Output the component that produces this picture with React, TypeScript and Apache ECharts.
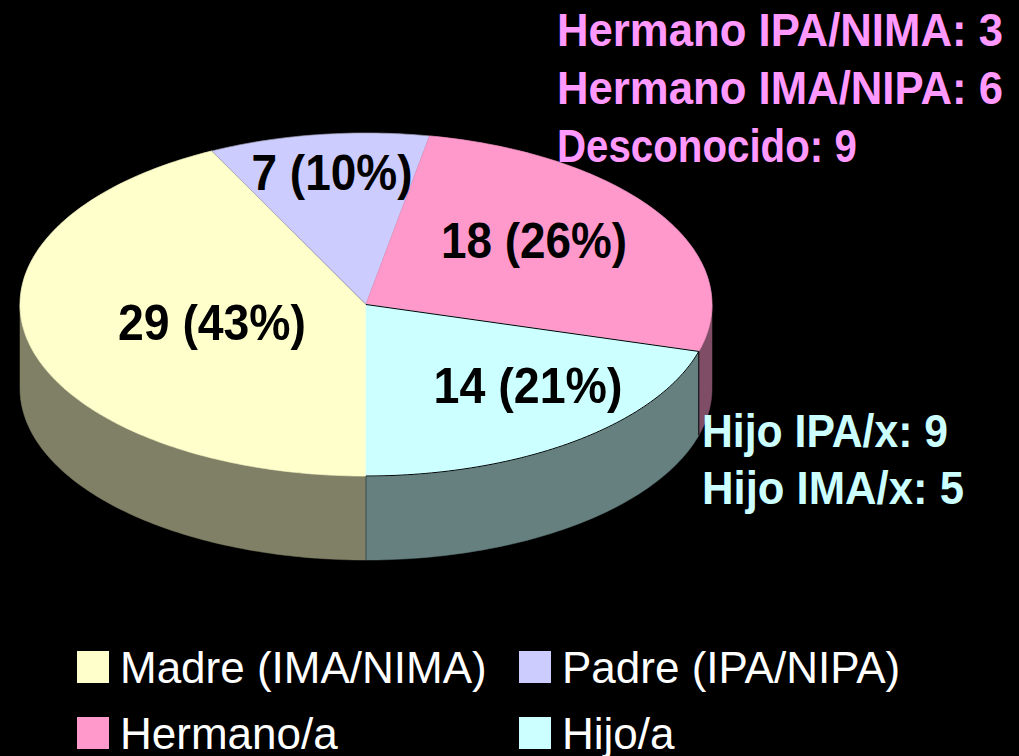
import React, { useEffect, useRef } from "react";
import * as echarts from "echarts";

const sliceNames = ["Madre (IMA/NIMA)", "Padre (IPA/NIPA)", "Hermano/a", "Hijo/a"];
const sliceValues = [29, 7, 18, 14];
const sliceLabels = ["29 (43%)", "7 (10%)", "18 (26%)", "14 (21%)"];
const topColors = ["#FFFFCC", "#CCCCFF", "#FF99CC", "#CCFFFF"];
const sideColors = ["#808066", "#666680", "#804D66", "#668080"];
const topStroke = ["#FFFFCC", "#9a9ab0", "#FF99CC", "#CCFFFF"];
const hermanoNotes = ["Hermano IPA/NIMA: 3", "Hermano IMA/NIPA: 6", "Desconocido: 9"];
const hijoNotes = ["Hijo IPA/x: 9", "Hijo IMA/x: 5"];

const CX = 366;
const CY = 304.5;
const RX = 346;
const RY = 171.5;
const DEPTH = 84;
const START_DEG = 90;
const OUTLINED_SLICE = 3;

const total = sliceValues.reduce((a, b) => a + b, 0);
const rad = (d: number) => (d * Math.PI) / 180;
const pt = (d: number, dy = 0): number[] => [CX + RX * Math.cos(rad(d)), CY + dy + RY * Math.sin(rad(d))];

function arc(a: number, b: number, dy = 0): number[][] {
  const n = Math.max(2, Math.ceil(b - a));
  const out: number[][] = [];
  for (let i = 0; i <= n; i++) out.push(pt(a + ((b - a) * i) / n, dy));
  return out;
}

function range(i: number): [number, number] {
  const before = sliceValues.slice(0, i).reduce((a, b) => a + b, 0);
  return [START_DEG + (before / total) * 360, START_DEG + ((before + sliceValues[i]) / total) * 360];
}

function verticalEdge(angle: number, stroke: string) {
  const [x1, y1] = pt(angle);
  const [x2, y2] = pt(angle, DEPTH);
  return { type: "line", shape: { x1, y1, x2, y2 }, style: { stroke, lineWidth: 1 } };
}

function renderSlice(i: number) {
  return () => {
    const [a, b] = range(i);
    const children: any[] = [];
    for (const [lo, hi] of [[0, 180], [360, 540]]) {
      const s = Math.max(a, lo);
      const e = Math.min(b, hi);
      if (e > s) {
        children.push({
          type: "polygon",
          shape: { points: [...arc(s, e), ...arc(s, e, DEPTH).reverse()] },
          style: { fill: sideColors[i], stroke: sideColors[i], lineWidth: 0.5 },
        });
      }
    }
    children.push({
      type: "polygon",
      shape: { points: [[CX, CY], ...arc(a, b)] },
      style: { fill: topColors[i], stroke: topStroke[i], lineWidth: 0.7 },
    });
    if (i === OUTLINED_SLICE) {
      children.push({
        type: "polyline",
        shape: { points: [[CX, CY], ...arc(a, b)] },
        style: { fill: "none", stroke: "#000", lineWidth: 1 },
      });
      children.push(verticalEdge(a, "#000"));
      children.push(verticalEdge(b, "#3f4f4f"));
    }
    return { type: "group", children };
  };
}

const FONT = "Liberation Sans";
const ctx = document.createElement("canvas").getContext("2d")!;
function fit(text: string, font: string, width: number) {
  ctx.font = font;
  return width / ctx.measureText(text).width;
}

const NOTE_FONT = `bold 47px "${FONT}"`;
const LABEL_FONT = `bold 50px "${FONT}"`;

const note = (text: string, x: number, y: number, fill: string, width: number) => ({
  type: "text",
  x,
  y,
  z: 50,
  scaleX: fit(text, NOTE_FONT, width),
  style: { text, fill, font: NOTE_FONT, textAlign: "left", textVerticalAlign: "middle" },
});
const label = (text: string, x: number, y: number, width: number) => ({
  type: "text",
  x,
  y,
  z: 50,
  scaleX: fit(text, LABEL_FONT, width),
  style: { text, fill: "#000", font: LABEL_FONT, textAlign: "center", textVerticalAlign: "middle" },
});

const labelAnchors = [[212, 322], [332, 173], [534, 241], [528, 385]];
const labelWidths = [188, 161, 186, 189];
const hermanoWidths = [446, 446, 300];
const hijoWidths = [246, 262];

export default function App() {
  const ref = useRef<HTMLDivElement>(null);
  useEffect(() => {
    document.body.style.margin = "0";
    document.body.style.background = "#000";
    const chart = echarts.init(ref.current!, undefined, { renderer: "svg" });
    const legendBase = {
      orient: "vertical",
      icon: "rect",
      itemWidth: 32,
      itemHeight: 32,
      itemGap: 22,
      padding: 0,
      selectedMode: false,
      textStyle: { color: "#fff", fontSize: 44, fontFamily: FONT, padding: [0, 0, 0, 6] },
    };
    chart.setOption({
      animation: false,
      backgroundColor: "#000",
      legend: [
        { ...legendBase, left: 77, top: 645, data: [sliceNames[0], sliceNames[2]] },
        { ...legendBase, left: 519, top: 645, data: [sliceNames[1], sliceNames[3]] },
      ],
      series: sliceNames.map((name, i) => ({
        type: "custom",
        name,
        coordinateSystem: "none",
        silent: true,
        itemStyle: { color: topColors[i] },
        data: [[sliceValues[i]]],
        renderItem: renderSlice(i),
      })),
      graphic: [
        ...sliceLabels.map((t, i) => label(t, labelAnchors[i][0], labelAnchors[i][1], labelWidths[i])),
        ...hermanoNotes.map((t, i) => note(t, 557, 30 + i * 57.5, "#FF99FF", hermanoWidths[i])),
        ...hijoNotes.map((t, i) => note(t, 702, 431 + i * 57, "#CCFFFF", hijoWidths[i])),
      ],
    });
    return () => chart.dispose();
  }, []);
  return <div ref={ref} style={{ position: "fixed", left: 0, top: 0, width: 1019, height: 756 }} />;
}
